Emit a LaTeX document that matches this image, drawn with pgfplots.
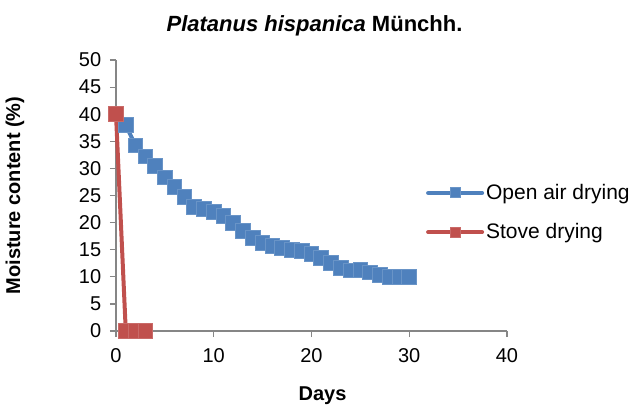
\documentclass[border=0pt]{standalone}
\usepackage{fontspec}
\setmainfont{Liberation Sans}
\usepackage{pgfplots}
\pgfplotsset{compat=1.18}

\definecolor{openblue}{HTML}{4F81BD}
\definecolor{stovered}{HTML}{C0504D}
\definecolor{axisgray}{HTML}{868686}

\begin{document}
\fontsize{20pt}{24pt}\selectfont
\begin{tikzpicture}
  \useasboundingbox (0,0) rectangle (632pt,408pt);
  \begin{axis}[
    at={(116pt,77pt)}, anchor=south west,
    scale only axis,
    width=391pt, height=271pt,
    xmin=0, xmax=40, ymin=0, ymax=50,
    xtick={0,10,20,30,40},
    ytick={0,5,...,50},
    axis lines*=left,
    hide obscured x ticks=false,
    hide obscured y ticks=false,
    axis line style={axisgray, line width=1.2pt},
    tick style={axisgray, line width=1.2pt},
    tick align=outside,
    major tick length=6pt,
    clip=false,
    /pgf/number format/assume math mode=true,
    tick label style={font=\fontsize{20pt}{24pt}\selectfont, black},
    xticklabel style={yshift=-5pt},
    yticklabel style={xshift=-2pt},
    title={\bfseries\itshape Platanus hispanica\upshape{} Münchh.},
    title style={at={(rel axis cs:0.5,1)}, anchor=center, yshift=28pt, xshift=3pt,
      font=\fontsize{22pt}{26pt}\selectfont},
    xlabel={\bfseries Days},
    every axis x label/.style={at={(rel axis cs:0.5,0)}, anchor=center, yshift=-65pt, xshift=11pt,
      font=\fontsize{20pt}{24pt}\selectfont},
    ylabel={\bfseries Moisture content (\%)},
    every axis y label/.style={at={(rel axis cs:0,0.5)}, rotate=90, anchor=center, yshift=101pt,
      font=\fontsize{20pt}{24pt}\selectfont},
    legend style={at={(0.785,0.437)}, anchor=west, draw=none, fill=none,
      font=\fontsize{21pt}{25pt}\selectfont, row sep=17pt,
      /tikz/every even column/.append style={column sep=2pt}},
    legend cell align=left,
    legend image code/.code={
      \draw[#1, line cap=round, mark=none] (0pt,0pt) -- (54pt,0pt);
      \draw[#1, mark size=5pt, mark repeat=1] plot coordinates {(27pt,0pt)};
    },
    ]
    \addplot[color=openblue, line width=4pt, mark=square*, mark size=7.3pt,
      mark options={fill=openblue, draw=openblue!85!white, line width=1pt}]
    coordinates {
      (0,40) (1,38) (2,34.2) (3,32.2) (4,30.4) (5,28.3) (6,26.6) (7,24.7)
      (8,22.9) (9,22.5) (10,22) (11,21.2) (12,19.9) (13,18.5) (14,17.2)
      (15,16.2) (16,15.7) (17,15.3) (18,14.9) (19,14.8) (20,14.2) (21,13.5)
      (22,12.5) (23,11.6) (24,11.2) (25,11.3) (26,10.8) (27,10.3) (28,10)
      (29,10) (30,10)
    };
    \addplot[color=stovered, line width=4pt, mark=square*, mark size=7.3pt,
      mark options={fill=stovered, draw=stovered!85!white, line width=1pt}]
    coordinates {(0,40) (1,0) (2,0) (3,0)};
    \legend{Open air drying, Stove drying}
  \end{axis}
\end{tikzpicture}
\end{document}
